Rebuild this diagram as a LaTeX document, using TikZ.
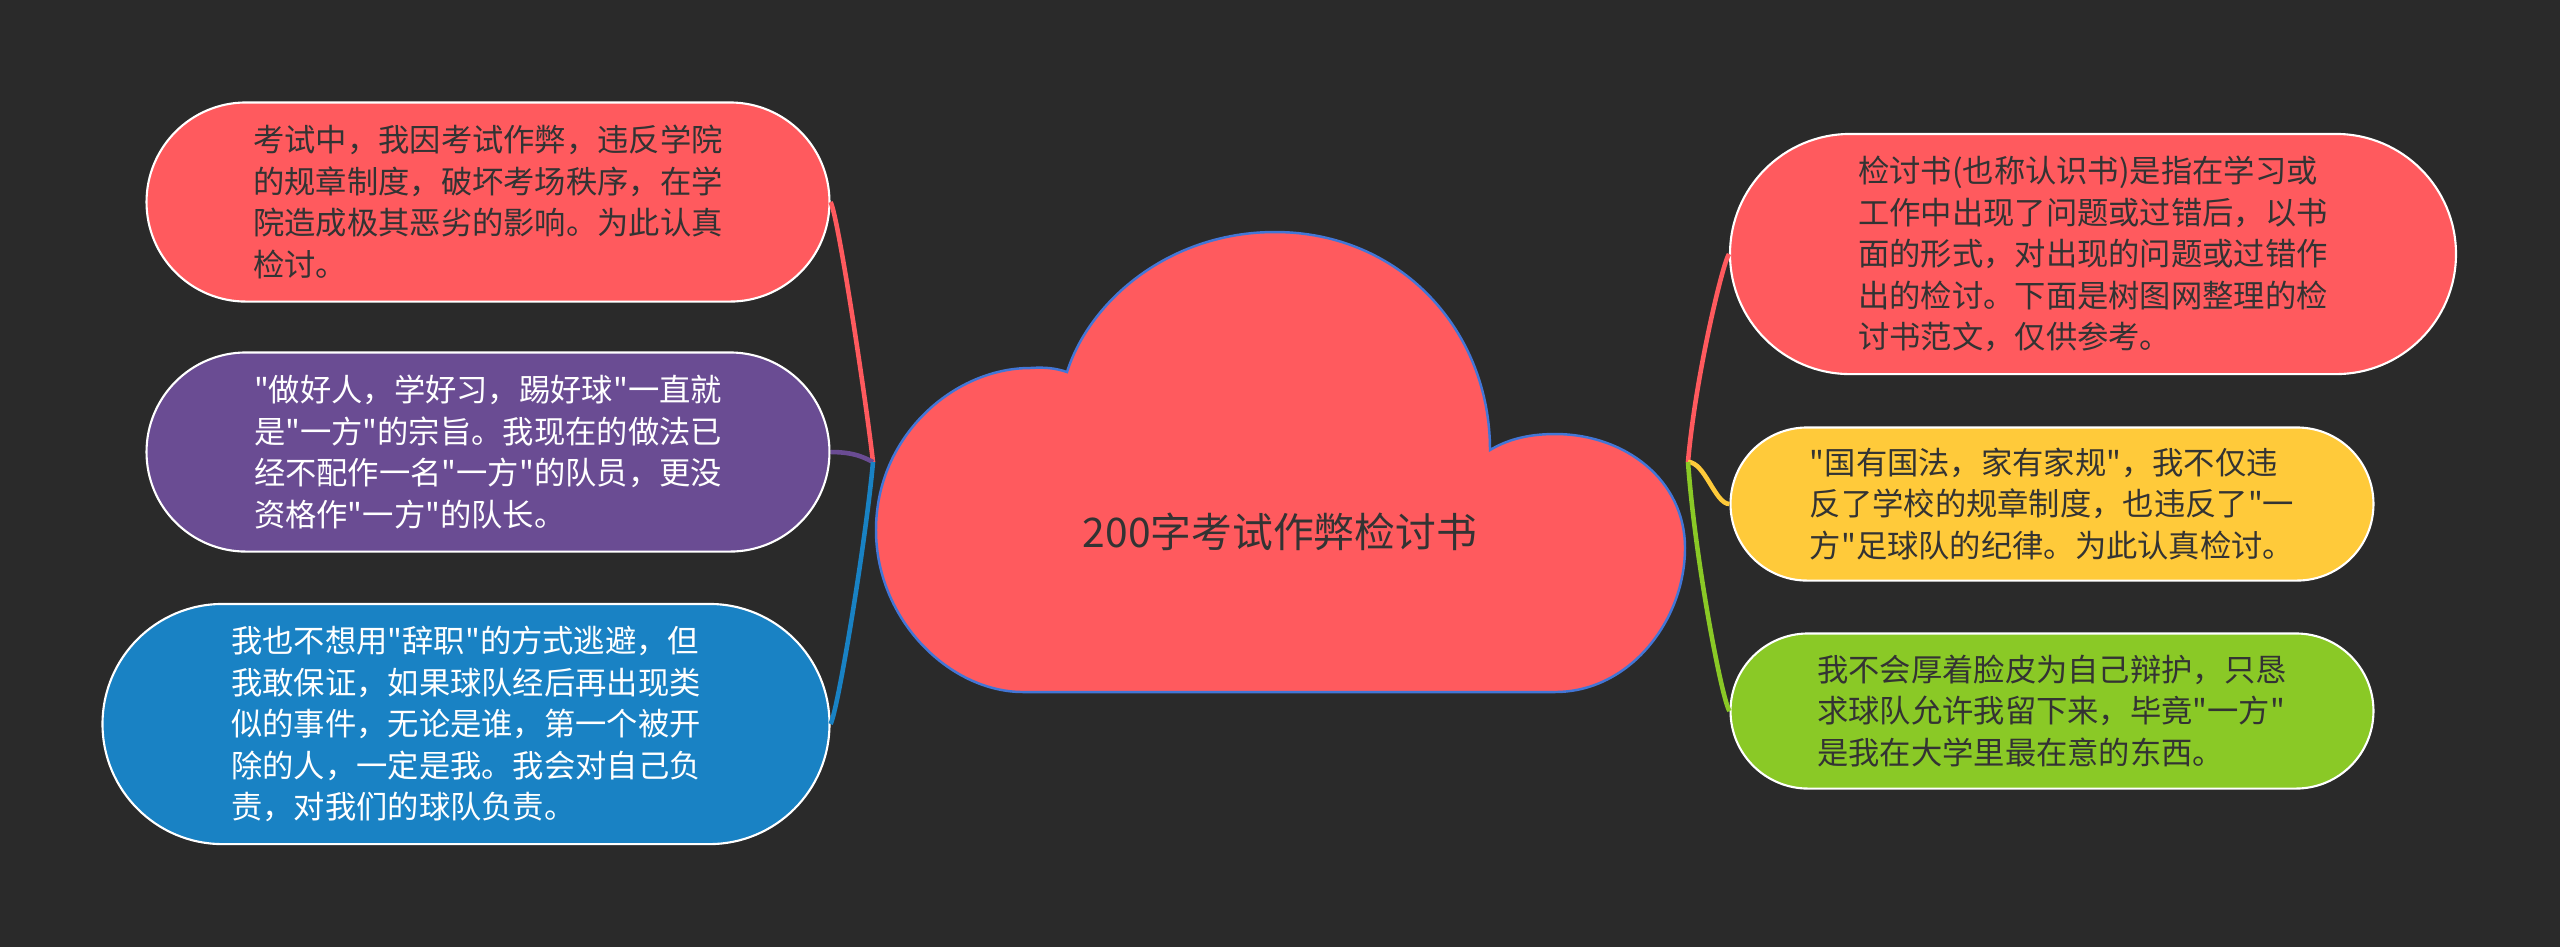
\documentclass[tikz,border=0pt]{standalone}
\usepackage{fontspec}
\setmainfont{Noto Sans CJK SC}[Ligatures=TeXOff]
\usepackage{xcolor}
\usetikzlibrary{shapes.misc}
\definecolor{bg}{RGB}{42, 42, 42}
\definecolor{rd}{RGB}{255, 90, 94}
\definecolor{pu}{RGB}{106, 76, 147}
\definecolor{bl}{RGB}{25, 130, 196}
\definecolor{yl}{RGB}{255, 202, 58}
\definecolor{gn}{RGB}{138, 201, 38}
\definecolor{cl}{RGB}{66, 118, 214}
\definecolor{tx}{RGB}{51, 51, 51}
\tikzset{
  box/.style={rounded rectangle, draw=white, line width=0.6pt, align=left,
    font=\fontsize{8.9pt}{11.8pt}\selectfont},
  link/.style={line width=1.3pt},
}

\begin{document}
\begin{tikzpicture}[x=0.01cm, y=-0.01cm]
        \fill[bg] (0,0) rectangle (2560,947);
        \useasboundingbox (0,0) rectangle (2560,947);
        % the cloud in the middle
        \draw[cl, fill=rd, line width=0.7pt] (1023,692) -- (1555,692)
            .. controls (1630,692) and (1685,620) .. (1685,548)
            .. controls (1685,480) and (1625,434) .. (1555,434)
            .. controls (1525,434) and (1505,441) .. (1490,450)
            .. controls (1490,330) and (1400,232) .. (1275,232)
            .. controls (1170,232) and (1090,300) .. (1067,372)
            .. controls (1055,368) and (1045,367) .. (1030,368)
            .. controls (955,368) and (876,435) .. (876,530)
            .. controls (876,620) and (950,692) .. cycle;
        \node[tx, font=\fontsize{11.6pt}{13pt}\selectfont] (root) at (1280,532) {200字考试作弊检讨书};
        \coordinate (jl) at (873,462);
        \coordinate (jr) at (1688,462);
        \node[box, fill=rd, text=tx, minimum width=7.06cm, minimum height=1.99cm] (l1) at (488,202)
            {考试中，我因考试作弊，违反学院\\的规章制度，破坏考场秩序，在学\\院造成极其恶劣的影响。为此认真\\检讨。};
        \node[box, fill=pu, text=white, minimum width=7.06cm, minimum height=1.99cm] (l2) at (488,452)
            {"做好人，学好习，踢好球"一直就\\是"一方"的宗旨。我现在的做法已\\经不配作一名"一方"的队员，更没\\资格作"一方"的队长。};
        \node[box, fill=bl, text=white, minimum width=7.50cm, minimum height=2.40cm] (l3) at (466,724)
            {我也不想用"辞职"的方式逃避，但\\我敢保证，如果球队经后再出现类\\似的事件，无论是谁，第一个被开\\除的人，一定是我。我会对自己负\\责，对我们的球队负责。};
        \node[box, fill=rd, text=tx, minimum width=7.49cm, minimum height=2.40cm] (r1) at (2093,254)
            {检讨书(也称认识书)是指在学习或\\工作中出现了问题或过错后，以书\\面的形式，对出现的问题或过错作\\出的检讨。下面是树图网整理的检\\讨书范文，仅供参考。};
        \node[box, fill=yl, text=tx, minimum width=6.66cm, minimum height=1.53cm] (r2) at (2052,504)
            {"国有国法，家有家规"，我不仅违\\反了学校的规章制度，也违反了"一\\方"足球队的纪律。为此认真检讨。};
        \node[box, fill=gn, text=tx, minimum width=6.66cm, minimum height=1.55cm] (r3) at (2052,711)
            {我不会厚着脸皮为自己辩护，只恳\\求球队允许我留下来，毕竟"一方"\\是我在大学里最在意的东西。};
        \draw[link, rd] (jl) .. controls (866,400) and (838,215) .. (l1.east);
        \draw[link, pu] (jl) .. controls (865,458) and (855,452) .. (l2.east);
        \draw[link, bl] (jl) .. controls (866,540) and (838,710) .. (l3.east);
        \draw[link, rd] (jr) .. controls (1695,380) and (1722,265) .. (r1.west);
        \draw[link, yl] (jr) .. controls (1705,462) and (1715,504) .. (r2.west);
        \draw[link, gn] (jr) .. controls (1695,560) and (1722,700) .. (r3.west);
    \end{tikzpicture}
\end{document}
